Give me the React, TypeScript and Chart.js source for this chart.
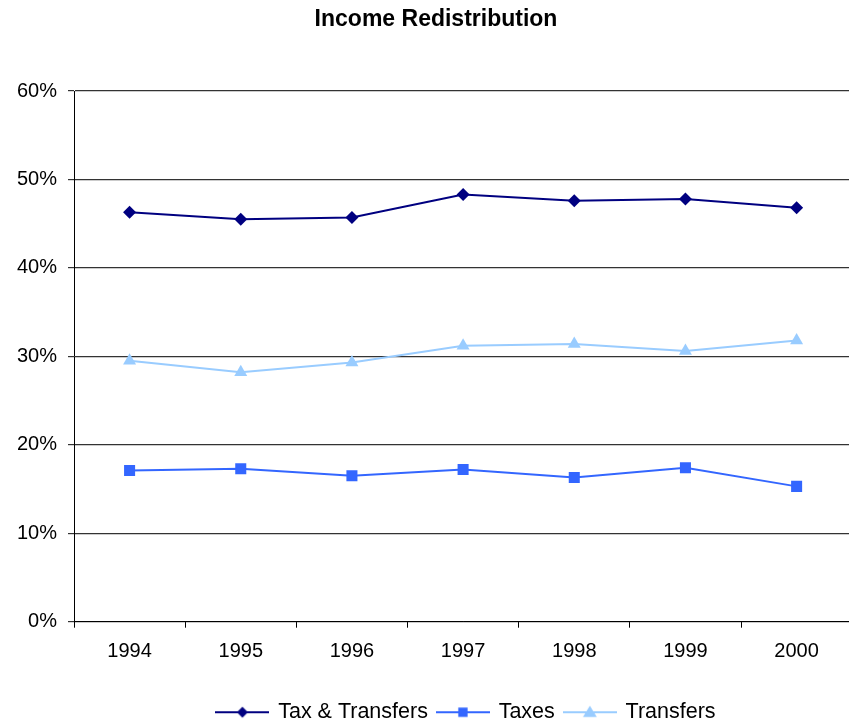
import React, { useEffect, useRef } from "react";
import { Chart, registerables } from "chart.js";

Chart.register(...registerables);

const years = ["1994", "1995", "1996", "1997", "1998", "1999", "2000"];
const taxAndTransfers = [46.3, 45.5, 45.7, 48.3, 47.6, 47.8, 46.8];
const taxes = [17.1, 17.3, 16.5, 17.2, 16.3, 17.4, 15.3];
const transfers = [29.5, 28.2, 29.3, 31.2, 31.4, 30.6, 31.8];
const seriesNames = ["Tax & Transfers", "Taxes", "Transfers"];
const seriesColors = ["#000080", "#3366FF", "#99CCFF"];
const seriesMarkers = ["rectRot", "rect", "triangle"];
const markerRadius = [6.5, 7.8, 7.5];
const legendMarkerRadius = [5.5, 6.6, 8];

const FONT = "'Liberation Sans', Arial, Helvetica, sans-serif";

function legendImage(color: string, marker: string, r: number) {
  const c = document.createElement("canvas");
  c.width = 54;
  c.height = 18;
  const ctx = c.getContext("2d")!;
  const cy = 9;
  ctx.strokeStyle = color;
  ctx.lineWidth = 2;
  ctx.beginPath();
  ctx.moveTo(0, cy);
  ctx.lineTo(54, cy);
  ctx.stroke();
  ctx.fillStyle = color;
  ctx.beginPath();
  const cx = 27;
  if (marker === "rectRot") {
    ctx.moveTo(cx, cy - r);
    ctx.lineTo(cx + r, cy);
    ctx.lineTo(cx, cy + r);
    ctx.lineTo(cx - r, cy);
  } else if (marker === "rect") {
    const s = r * Math.SQRT1_2;
    ctx.rect(cx - s, cy - s, 2 * s, 2 * s);
  } else {
    const h = Math.sin(Math.PI / 3) * r;
    ctx.moveTo(cx, cy - r * 0.8);
    ctx.lineTo(cx + h, cy + r * 0.6);
    ctx.lineTo(cx - h, cy + r * 0.6);
  }
  ctx.closePath();
  ctx.fill();
  return c;
}

const shiftPlugin = {
  id: "shiftBoxes",
  afterLayout(chart: any) {
    if (chart.legend) {
      chart.legend.left += 38;
      chart.legend.right += 38;
    }
    if (chart.titleBlock) {
      chart.titleBlock.left += 7.5;
      chart.titleBlock.right += 7.5;
    }
  },
};

export default function App() {
  const ref = useRef<HTMLCanvasElement>(null);
  useEffect(() => {
    if (!ref.current) return;
    const values = [taxAndTransfers, taxes, transfers];
    const images = seriesNames.map((_, i) =>
      legendImage(seriesColors[i], seriesMarkers[i], legendMarkerRadius[i])
    );
    const chart = new Chart(ref.current, {
      type: "line",
      data: {
        labels: years,
        datasets: seriesNames.map((name, i) => ({
          label: name,
          data: values[i],
          borderColor: seriesColors[i],
          backgroundColor: seriesColors[i],
          pointBackgroundColor: seriesColors[i],
          pointBorderColor: seriesColors[i],
          pointBorderWidth: 0,
          pointStyle: seriesMarkers[i] as any,
          pointRadius: markerRadius[i],
          borderWidth: 2,
          tension: 0,
          fill: false,
        })),
      },
      plugins: [shiftPlugin],
      options: {
        animation: false,
        responsive: false,
        devicePixelRatio: 1,
        layout: { padding: { left: 0, right: 3, top: 0, bottom: 0 } },
        plugins: {
          tooltip: { enabled: false },
          title: {
            display: true,
            text: "Income Redistribution",
            color: "#000",
            font: { family: FONT, size: 23, weight: "bold", lineHeight: 1.2 },
            padding: { top: 6, bottom: 57.4 },
          },
          legend: {
            position: "bottom",
            labels: {
              color: "#000",
              font: { family: FONT, size: 21.5 },
              usePointStyle: true,
              pointStyleWidth: 50,
              boxHeight: 18,
              padding: 10,
              generateLabels: (ch: any) => {
                const items = Chart.defaults.plugins.legend.labels.generateLabels(ch);
                items.forEach((it: any, i: number) => {
                  it.pointStyle = images[i];
                  it.fontColor = "#000";
                });
                return items;
              },
            },
          },
        },
        scales: {
          x: {
            type: "category",
            offset: true,
            grid: {
              offset: true,
              drawOnChartArea: false,
              drawTicks: true,
              tickLength: 6,
              color: "#000",
            },
            border: { display: true, color: "#000", width: 1 },
            ticks: {
              color: "#000",
              font: { family: FONT, size: 20 },
              padding: 12,
              maxRotation: 0,
            },
            afterFit: (s: any) => {
              s.height = 69.8;
            },
          },
          y: {
            min: 0,
            max: 60,
            grid: {
              color: "#333",
              lineWidth: 1.2,
              drawTicks: true,
              tickLength: 6,
            },
            border: { display: true, color: "#000", width: 1 },
            ticks: {
              stepSize: 10,
              color: "#000",
              font: { family: FONT, size: 20 },
              padding: 11,
              callback: (v: any) => `${v}%`,
            },
            afterFit: (s: any) => {
              s.width = 74;
            },
          },
        },
      },
    });
    return () => chart.destroy();
  }, []);
  return (
    <div
      style={{
        position: "fixed",
        left: 0,
        top: 0,
        width: 849,
        height: 725,
        overflow: "hidden",
        background: "#fff",
      }}
    >
      <canvas ref={ref} width={860} height={733} style={{ display: "block" }} />
    </div>
  );
}
